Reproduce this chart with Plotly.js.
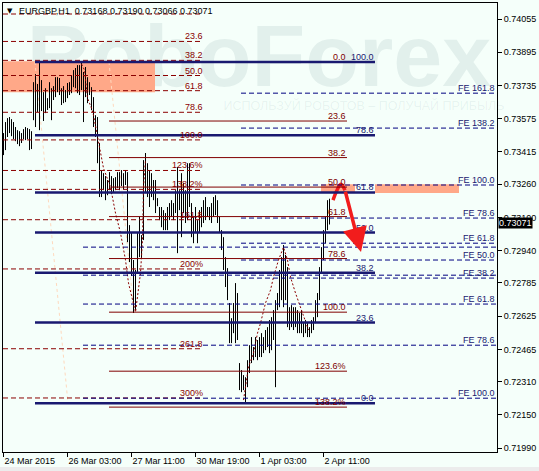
<!DOCTYPE html>
<html><head><meta charset="utf-8">
<script src="https://cdn.plot.ly/plotly-3.0.1.min.js"></script>
<style>html,body{margin:0;padding:0;background:#fff}#chart{width:539px;height:471px}</style>
</head><body><div id="chart"></div>
<script>
// ---------- data ----------
const symbol = 'EURGBP,H1';
const lastOHLC = ['0.73168','0.73190','0.73066','0.73071'];
const lastPrice = 0.73071;
const xTickIdx = [0, 32, 64, 96, 128, 160];
const xTickText = ['24 Mar 2015','26 Mar 03:00','27 Mar 11:00','30 Mar 19:00','1 Apr 03:00','2 Apr 11:00'];
const yTickVals = [0.74055,0.73895,0.73735,0.73575,0.73415,0.73260,0.73100,0.72940,0.72785,0.72625,0.72465,0.72310,0.72150,0.71990];

const barHigh = [0.73506,0.73559,0.73578,0.73583,0.73573,0.73559,0.73535,0.73520,0.73515,0.73506,
0.73525,0.73535,0.73530,0.73525,0.73515,0.73751,0.73790,0.73742,0.73848,0.73761,
0.73703,0.73722,0.73674,0.73751,0.73722,0.73732,0.73775,0.73775,0.73771,0.73722,
0.73732,0.73713,0.73747,0.73751,0.73785,0.73809,0.73819,0.73833,0.73833,0.73843,
0.73800,0.73824,0.73775,0.73751,0.73727,0.73679,0.73592,0.73583,0.73458,0.73328,
0.73313,0.73299,0.73280,0.73318,0.73299,0.73289,0.73294,0.73318,0.73318,0.73328,
0.73313,0.73328,0.73318,0.73063,0.73029,0.72895,0.72847,0.73025,0.73102,0.73015,
0.73376,0.73410,0.73361,0.73328,0.73313,0.73280,0.73280,0.73193,0.73150,0.73150,
0.73135,0.73121,0.73150,0.73169,0.73183,0.73169,0.73231,0.73342,0.73231,0.73313,
0.73265,0.73231,0.73361,0.73361,0.73169,0.73102,0.73150,0.73087,0.73135,0.73150,
0.73183,0.73198,0.73150,0.73150,0.73169,0.73198,0.73207,0.73183,0.73102,0.73039,
0.73005,0.72909,0.72856,0.72688,0.72615,0.72688,0.72784,0.72736,0.72399,0.72365,
0.72341,0.72331,0.72413,0.72485,0.72524,0.72476,0.72524,0.72510,0.72524,0.72543,
0.72524,0.72558,0.72572,0.72606,0.72620,0.72654,0.72702,0.72736,0.72847,0.72909,
0.72967,0.72919,0.72861,0.72668,0.72678,0.72668,0.72668,0.72654,0.72640,0.72654,
0.72591,0.72606,0.72591,0.72572,0.72606,0.72620,0.72702,0.72736,0.72861,0.72957,
0.73039,0.73102,0.73183,0.73190];
const barLow = [0.73400,0.73424,0.73487,0.73506,0.73491,0.73477,0.73467,0.73453,0.73443,0.73458,
0.73477,0.73472,0.73477,0.73424,0.73429,0.73568,0.73535,0.73607,0.73520,0.73612,
0.73564,0.73602,0.73617,0.73626,0.73568,0.73665,0.73679,0.73703,0.73689,0.73641,
0.73650,0.73655,0.73674,0.73689,0.73698,0.73727,0.73722,0.73698,0.73689,0.73713,
0.73559,0.73679,0.73650,0.73689,0.73617,0.73535,0.73487,0.73361,0.73198,0.73198,
0.73231,0.73183,0.73207,0.73231,0.73212,0.73222,0.73231,0.73241,0.73231,0.73251,
0.73236,0.73256,0.72981,0.72885,0.72818,0.72640,0.72654,0.72832,0.72909,0.72904,
0.72991,0.73217,0.73198,0.73150,0.73198,0.73183,0.73121,0.73154,0.73087,0.73053,
0.73039,0.73039,0.73039,0.73087,0.73102,0.73087,0.73121,0.72928,0.73135,0.73005,
0.73121,0.73073,0.73087,0.73150,0.73005,0.72976,0.73025,0.72976,0.73025,0.73053,
0.73073,0.73087,0.73102,0.73087,0.73073,0.73102,0.73111,0.73073,0.73025,0.72943,
0.72847,0.72765,0.72702,0.72495,0.72495,0.72543,0.72495,0.72510,0.72269,0.72259,
0.72269,0.72206,0.72283,0.72351,0.72399,0.72413,0.72428,0.72413,0.72428,0.72428,
0.72447,0.72461,0.72476,0.72447,0.72461,0.72510,0.72283,0.72654,0.72668,0.72702,
0.72668,0.72702,0.72572,0.72558,0.72572,0.72558,0.72572,0.72543,0.72543,0.72543,
0.72524,0.72543,0.72524,0.72524,0.72543,0.72558,0.72591,0.72620,0.72702,0.72837,
0.72895,0.72976,0.73039,0.73066];

// Fibonacci retracement (dashed, dark red)
const fibDashText  = ['0.0','23.6','38.2','50.0','61.8','78.6','100.0','123.6%','138.2%','161.8','200%','261.8','300%'];
const fibDashPrice = [0.74079,0.73947,0.73856,0.73783,0.73710,0.73606,0.73473,0.73326,0.73235,0.73089,0.72852,0.72468,0.72231];
// Fibonacci retracement (solid, maroon)
const fibSolidText  = ['0.0','23.6','38.2','50.0','61.8','78.6','100.0','123.6%','138.2%'];
const fibSolidPrice = [0.73848,0.73564,0.73388,0.73246,0.73104,0.72902,0.72644,0.72360,0.72187];
// Fibonacci retracement (thick, navy)
const fibBlueText  = ['100.0','78.6','61.8','50.0','38.2','23.6','0.0'];
const fibBluePrice = [0.73848,0.73496,0.73220,0.73027,0.72834,0.72594,0.72206];
// Fibonacci expansion B (short)
const feBText  = ['FE 161.8','FE 138.2','FE 100.0','FE 78.6','FE 61.8','FE 50.0','FE 38.2'];
const feBPrice = [0.73698,0.73530,0.73256,0.73097,0.72976,0.72895,0.72808];
// Fibonacci expansion A (long)
const feAText  = ['','','FE 61.8','FE 78.6','FE 100.0'];
const feAPrice = [0.72957,0.72822,0.72683,0.72485,0.72230];

// zones
const zoneTop = {x0:-0.25, x1:75.75, y0:0.73703, y1:0.73852};
const zoneRight = [{x0:158.75, x1:175.75}, {x0:185.75, x1:227.75}];
const zoneRightPrice = [0.73217, 0.73260];

// zigzag (dotted) and anchor diagonals
const zzX = [39,40.5,42,44,45,47,49,50,53.5,56,58.5,61,62.5,64.5,66,68.5,69.5,70,71,null,
             120,121,122.5,125,127,128.5,131,133.5,135,137.5,140,142,143.5,146,148.5,150,152.5];
const zzY = [0.73838,0.73809,0.73674,0.73626,0.73592,0.73482,0.73390,0.73337,0.73246,0.73121,0.73025,0.72895,0.72784,0.72702,0.72644,0.72832,0.72991,0.73246,0.73376,null,
             0.72221,0.72283,0.72380,0.72447,0.72543,0.72591,0.72688,0.72750,0.72813,0.72895,0.72957,0.72895,0.72813,0.72736,0.72668,0.72620,0.72558];
const diagX = [15.75, 32.25, null, 52.75, 65.25];
const diagY = [0.73848, 0.72206, null, 0.73848, 0.72644];

// forecast arrow
const arrowX = [164.75, 166.75, 168.75, 170.75];
const arrowY = [0.73183, 0.73231, 0.73260, 0.73231];
const arrowTip = {x:178.75, y:0.72933};

// ---------- geometry / style ----------
const DASH_END = 99.75, SOLID_START = 52.75, SOLID_END = 171.75;
const BLUE_START = 15.75, BLUE_END = 185.75, FEB_START = 118.75, FEA_START = 39.75, X_END = 246.75;
const cDashRed = '#8b0000', cMaroon = '#800000', cNavy = '#191970', cNavyDash = '#000080';
const FONT = 'Liberation Sans, Arial, sans-serif';
const px = x => (x - 3) / 494, py = y => (452 - y) / 449;

// bars as vertical segments
const bx = [], by = [];
barHigh.forEach((h, i) => { bx.push(i, i, null); by.push(h, barLow[i], null); });

const traces = [
  {type:'scatter', mode:'lines', x:diagX, y:diagY, line:{color:'#ffd9bd', width:1, dash:'3px,3px'}, hoverinfo:'skip'},
  {type:'scatter', mode:'lines', x:bx, y:by, line:{color:'#000', width:1}, hoverinfo:'skip'},
  {type:'scatter', mode:'lines', x:zzX, y:zzY, line:{color:'#8b0000', width:1, dash:'2px,2px'}, hoverinfo:'skip'},
  {type:'scatter', mode:'lines', x:arrowX, y:arrowY, line:{color:'#f21c1c', width:3.5, shape:'spline'}, hoverinfo:'skip'}
];

const shapes = [];
// zones (background)
shapes.push({type:'rect', xref:'x', yref:'y', x0:zoneTop.x0, x1:zoneTop.x1, y0:zoneTop.y0, y1:zoneTop.y1, fillcolor:'#ffa888', line:{width:0}, layer:'below'});
zoneRight.forEach(z => shapes.push({type:'rect', xref:'x', yref:'y', x0:z.x0, x1:z.x1, y0:zoneRightPrice[0], y1:zoneRightPrice[1], fillcolor:'#ffa888', line:{width:0}, layer:'below'}));
// watermark
shapes.push({type:'rect', xref:'paper', yref:'paper', x0:px(20), x1:px(498), y0:py(90), y1:py(4), line:{width:0}, fillcolor:'rgba(0,0,0,0)', layer:'below',
  label:{text:'RoboForex', textposition:'middle center', font:{family:FONT, size:88, weight:700, color:'rgba(30,80,90,0.085)'}}});
shapes.push({type:'rect', xref:'paper', yref:'paper', x0:px(230), x1:px(498), y0:py(112), y1:py(98), line:{width:0}, fillcolor:'rgba(0,0,0,0)', layer:'below',
  label:{text:'ИСПОЛЬЗУЙ РОБОТОВ – ПОЛУЧАЙ ПРИБЫЛЬ', textposition:'middle center', font:{family:FONT, size:12.5, color:'rgba(30,80,90,0.075)'}}});
// lines
const hl = (y, x0, x1, color, width, dash) => ({type:'line', xref:'x', yref:'y', x0, x1, y0:y, y1:y, line:{color, width, dash}, layer:'above'});
fibDashPrice.forEach(p => shapes.push(hl(p, -0.25, DASH_END, cDashRed, 1, '5px,3px')));
fibSolidPrice.forEach(p => shapes.push(hl(p, SOLID_START, SOLID_END, cMaroon, 1, 'solid')));
feAPrice.forEach(p => shapes.push(hl(p, FEA_START, X_END, cNavyDash, 1, '5px,3px')));
feBPrice.forEach(p => shapes.push(hl(p, FEB_START, X_END, cNavyDash, 1, '5px,3px')));
fibBluePrice.forEach(p => shapes.push(hl(p, BLUE_START, BLUE_END, cNavy, 2.5, 'solid')));
// bottom strip
shapes.push({type:'rect', xref:'paper', yref:'paper', x0:px(0), x1:px(539), y0:py(471), y1:py(467), fillcolor:'#ececec', line:{width:0}, layer:'above'});

const ann = [];
const lab = (text, x, y, color, xref, xshift) => ({text, x, y, xref:xref||'x', yref:'y', xanchor:'right', yanchor:'bottom', showarrow:false,
  font:{family:FONT, size:9, color}, borderpad:0, yshift:-1, xshift:xshift||0});
fibDashText.forEach((t, i) => { if (i > 0) ann.push(lab(t, DASH_END, fibDashPrice[i], cDashRed, 'x', 1)); });
fibSolidText.forEach((t, i) => ann.push(lab(t, SOLID_END, fibSolidPrice[i], cMaroon)));
fibBlueText.forEach((t, i) => ann.push(lab(t, BLUE_END, fibBluePrice[i], cNavy)));
feBText.forEach((t, i) => ann.push({...lab(t, 1, feBPrice[i], cNavy, 'paper', -1)}));
feAText.forEach((t, i) => { if (t) ann.push(lab(t, 1, feAPrice[i], cNavy, 'paper', -1)); });
// title
ann.push({text:'▼', xref:'paper', yref:'paper', x:px(5), y:py(11), xanchor:'left', yanchor:'middle', showarrow:false, font:{family:'DejaVu Sans', size:7, color:'#000'}});
ann.push({text:symbol + '  ' + lastOHLC.join(' '), xref:'paper', yref:'paper', x:px(17), y:py(11), xanchor:'left', yanchor:'middle', showarrow:false, font:{family:FONT, size:9, color:'#000'}});
// current price box
ann.push({text:lastOHLC[3], xref:'paper', yref:'y', x:1, y:lastPrice, xanchor:'left', yanchor:'middle', xshift:1, showarrow:false,
  bgcolor:'#000', borderpad:0, font:{family:FONT, size:9, color:'#fff'}});
// arrow
ann.push({text:'', x:arrowTip.x, y:arrowTip.y, ax:arrowX[arrowX.length-1], ay:arrowY[arrowY.length-1], axref:'x', ayref:'y', xref:'x', yref:'y',
  showarrow:true, arrowhead:2, arrowsize:1.4, arrowwidth:3.5, arrowcolor:'#f21c1c', standoff:0, startstandoff:0});

const layout = {
  width:539, height:471,
  margin:{l:3, r:42, t:3, b:19, pad:0},
  paper_bgcolor:'#f5fffa', plot_bgcolor:'#f5fffa',
  showlegend:false,
  font:{family:FONT, size:9, color:'#000'},
  xaxis:{range:[-0.25, X_END], tickvals:xTickIdx, ticktext:xTickText, ticks:'outside', ticklen:4, tickcolor:'#000',
    showline:true, linecolor:'#000', linewidth:1, mirror:true, showgrid:false, zeroline:false,
    ticklabelposition:'outside right', tickfont:{family:FONT, size:9, color:'#000'}, fixedrange:true},
  yaxis:{range:[0.71971, 0.74132], side:'right', tickvals:yTickVals, ticktext:yTickVals.map(v => v.toFixed(5)),
    ticks:'outside', ticklen:4, tickcolor:'#000', showline:true, linecolor:'#000', linewidth:1, mirror:true,
    showgrid:false, zeroline:false, tickfont:{family:FONT, size:9, color:'#000'}, fixedrange:true},
  shapes, annotations:ann
};
Plotly.newPlot('chart', traces, layout, {staticPlot:true, displayModeBar:false});
</script></body></html>
